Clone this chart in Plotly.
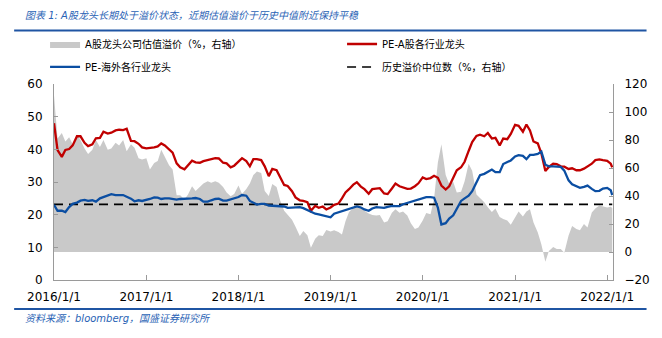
import pandas as pd
import plotly.graph_objects as go

# Semi-monthly observations, Jan 2016 - Jan 2022
dates = list(pd.date_range("2016-01-01", "2022-01-15", freq="SMS")) + [pd.Timestamp("2022-01-21")]

# PE of A-share industry leaders (left axis)
pe_a_leaders = [
    48.0, 39.8, 37.7, 39.8, 40.1, 41.2, 44.0, 44.0, 42.0, 41.0,
    41.5, 43.4, 43.5, 45.4, 44.8, 45.1, 45.8, 46.0, 45.9, 46.3,
    42.6, 42.5, 41.7, 40.6, 40.3, 40.4, 40.6, 40.9, 41.8, 41.2,
    40.0, 39.0, 35.7, 34.5, 33.9, 35.1, 36.5, 36.0, 35.9, 36.4,
    36.7, 36.8, 37.3, 37.2, 35.9, 35.7, 34.5, 35.0, 36.2, 37.3,
    36.4, 34.8, 37.0, 37.0, 36.7, 34.8, 31.8, 34.0, 33.6, 31.7,
    29.1, 28.8, 27.2, 25.3, 24.4, 24.2, 23.8, 21.2, 22.7, 22.1,
    22.5, 21.6, 22.2, 23.0, 23.4, 25.0, 26.8, 27.8, 29.2, 29.9,
    28.6, 27.8, 26.4, 27.8, 28.0, 28.1, 26.5, 26.3, 28.0, 29.5,
    28.7, 28.3, 27.9, 28.0, 28.7, 29.6, 31.4, 30.9, 31.2, 31.9,
    31.3, 28.9, 27.7, 28.7, 31.2, 33.6, 34.5, 36.2, 39.5, 42.2,
    44.1, 44.5, 44.0, 45.0, 43.3, 43.5, 41.2, 43.3, 43.1, 44.7,
    47.5, 47.2, 45.4, 47.6, 45.8, 42.4, 41.8, 38.8, 33.4, 34.6,
    35.6, 35.5, 34.8, 34.7, 34.0, 34.2, 33.6, 33.6, 34.1, 34.7,
    35.6, 36.7, 36.9, 36.7, 36.5, 35.6, 34.5,
]

# PE of overseas industry leaders (left axis)
pe_overseas_leaders = [
    23.0, 21.2, 21.2, 20.8, 22.3, 23.3, 23.7, 24.3, 24.5, 24.2,
    24.4, 24.0, 25.0, 25.4, 25.7, 26.3, 26.0, 26.0, 26.0, 25.5,
    24.9, 24.1, 24.4, 24.2, 24.5, 24.8, 25.3, 25.2, 24.8, 25.0,
    25.0, 24.8, 24.6, 24.8, 24.8, 24.8, 25.0, 25.1, 24.8, 24.0,
    24.0, 24.4, 24.8, 24.9, 24.3, 24.3, 24.7, 25.0, 25.4, 26.0,
    25.8, 24.2, 23.7, 23.1, 23.3, 23.3, 22.8, 22.7, 22.6, 22.7,
    22.5, 22.1, 22.1, 22.1, 22.3, 22.0, 21.4, 20.7, 20.3, 20.1,
    19.8, 19.3, 19.2, 20.3, 20.7, 21.0, 21.2, 21.7, 22.1, 22.5,
    22.2, 21.6, 21.2, 21.9, 22.3, 22.3, 22.1, 22.4, 22.7, 22.6,
    22.6, 23.2, 23.6, 23.8, 24.2, 24.5, 25.0, 25.4, 25.4, 25.2,
    22.2, 17.0, 17.4, 18.8, 19.8, 22.0, 24.2, 25.0, 25.8, 27.2,
    30.0, 32.1, 32.5, 33.0, 33.8, 33.0, 33.0, 35.5, 36.0, 36.6,
    37.8, 38.2, 38.0, 37.0, 38.3, 38.3, 38.6, 39.3, 35.3, 34.8,
    34.8, 34.7, 34.6, 33.5, 30.5, 29.3, 28.7, 28.2, 28.5, 28.9,
    27.9, 27.2, 27.3, 28.0, 28.2, 27.5, 26.0,
]

# Valuation premium of A-share leaders, % (right axis)
premium_pct = [
    112, 81, 85, 79, 82, 77, 84, 80, 74, 70,
    73, 80, 75, 80, 73, 74, 78, 76, 80, 72,
    77, 74.5, 67, 66, 67, 59, 63.5, 65, 73, 68.5,
    62, 59, 40.5, 40.5, 37.5, 41, 47, 43.5, 46.5, 49,
    50.5, 49.5, 50.5, 49.5, 46.5, 42.5, 39.8, 41.5, 47.5, 41.5,
    45, 49, 55, 57.5, 56.5, 43.5, 40, 48.5, 46.5, 37,
    29.5, 26.5, 23, 18, 11.5, 15, 12, 3, 9.5, 12,
    11.5, 15.8, 14.7, 15.5, 14.3, 12.5, 22, 28.5, 31.5, 34,
    32.5, 29.5, 27.5, 26.5, 26, 26.5, 21, 22, 28, 30.5,
    28, 29, 26, 20.5, 16.5, 17.5, 22.5, 27.9, 27, 38,
    64, 77, 55, 48.5, 50, 42.5, 43, 50.5, 63, 58,
    41, 38.5, 35.5, 32, 28.5, 31, 25, 23.5, 22.5, 19.5,
    24.5, 29, 25.3, 29, 30.5, 21, 14, 5.5, -7, 0.8,
    3.5, 2.2, 2.2, -0.5, 11.8, 18.5, 16.5, 15.5, 20, 17.5,
    28.3, 31, 33.2, 32.5, 31.8, 32.3, 31.4,
]

# Historical median premium, % (right axis)
median_premium_pct = 34

year_ticks = ["2016-01-01", "2017-01-01", "2018-01-01", "2019-01-01",
              "2020-01-01", "2021-01-01", "2022-01-01"]
year_labels = ["2016/1/1", "2017/1/1", "2018/1/1", "2019/1/1",
               "2020/1/1", "2021/1/1", "2022/1/1"]

FONT = "DejaVu Sans, Noto Sans CJK SC, sans-serif"
AXIS_GREY = "#9a9a9a"
TITLE_BLUE = "#2a63b5"
RULE_BLUE = "#1f55a3"

fig = go.Figure()

# Premium area and median line sit on the base (right-hand) axis so the PE
# lines, on the overlaying (left-hand) axis, are drawn on top of them.
fig.add_trace(go.Scatter(
    x=dates, y=premium_pct, yaxis="y", name="A股龙头公司估值溢价（%，右轴）",
    mode="lines", line=dict(width=0, color="#c9c9c9"), fill="tozeroy",
    fillcolor="#c9c9c9", legend="legend", legendrank=1,
))
fig.add_trace(go.Scatter(
    x=[dates[0], dates[-1]], y=[median_premium_pct, median_premium_pct], yaxis="y",
    name="历史溢价中位数（%，右轴）", mode="lines",
    line=dict(color="#000000", width=1.6, dash="9px,6px"),
    legend="legend2", legendrank=2,
))
fig.add_trace(go.Scatter(
    x=dates, y=pe_a_leaders, yaxis="y2", name="PE-A股各行业龙头", mode="lines",
    line=dict(color="#c00000", width=2.3), legend="legend", legendrank=2,
))
fig.add_trace(go.Scatter(
    x=dates, y=pe_overseas_leaders, yaxis="y2", name="PE-海外各行业龙头", mode="lines",
    line=dict(color="#0b4ea2", width=2.3), legend="legend2", legendrank=1,
))

legend_common = dict(
    orientation="h", xanchor="left", yanchor="middle", x=-0.016,
    entrywidth=252, entrywidthmode="pixels", bgcolor="rgba(0,0,0,0)",
    font=dict(family=FONT, size=10, color="#000000"), traceorder="normal",
)

axis_common = dict(
    showline=True, linecolor=AXIS_GREY, linewidth=1,
    ticks="inside", ticklen=4, tickcolor=AXIS_GREY,
    showgrid=False, zeroline=False, ticklabelstandoff=8,
    tickfont=dict(size=12),
)

fig.update_layout(
    width=662, height=338,
    margin=dict(l=54, r=33, t=84, b=58),
    paper_bgcolor="white", plot_bgcolor="white",
    font=dict(family=FONT, size=12, color="#000000"),
    hovermode=False,
    legend=dict(y=1.204, **legend_common),
    legend2=dict(y=1.087, **legend_common),
    xaxis=dict(
        type="date", range=["2016-01-01", "2022-01-24"],
        tickvals=year_ticks, ticktext=year_labels,
        showline=True, linecolor=AXIS_GREY, linewidth=1,
        ticks="inside", ticklen=5, tickcolor=AXIS_GREY,
        showgrid=False, zeroline=False, ticklabelstandoff=6,
        tickfont=dict(size=12),
    ),
    yaxis=dict(range=[-20, 120], dtick=20, side="right", **axis_common),
    yaxis2=dict(range=[0, 60], dtick=10, side="left", overlaying="y", **axis_common),
)

# Heading and source note
fig.add_annotation(
    text="图表 1: A股龙头长期处于溢价状态，近期估值溢价于历史中值附近保持平稳",
    xref="paper", yref="paper", x=-0.0557, y=1.347, xanchor="left", yanchor="middle",
    showarrow=False, font=dict(family=FONT, size=10, color=TITLE_BLUE, style="italic"),
)
fig.add_annotation(
    text="资料来源：bloomberg，国盛证券研究所",
    xref="paper", yref="paper", x=-0.0557, y=-0.194, xanchor="left", yanchor="middle",
    showarrow=False, font=dict(family=FONT, size=10, color=TITLE_BLUE, style="italic"),
)
fig.add_shape(type="line", xref="paper", yref="paper", x0=-0.0713, x1=1.06,
              y0=1.273, y1=1.273, line=dict(color=RULE_BLUE, width=2))
fig.add_shape(type="line", xref="paper", yref="paper", x0=-0.0713, x1=1.06,
              y0=-0.148, y1=-0.148, line=dict(color=RULE_BLUE, width=2))

fig.write_html("out.html")
